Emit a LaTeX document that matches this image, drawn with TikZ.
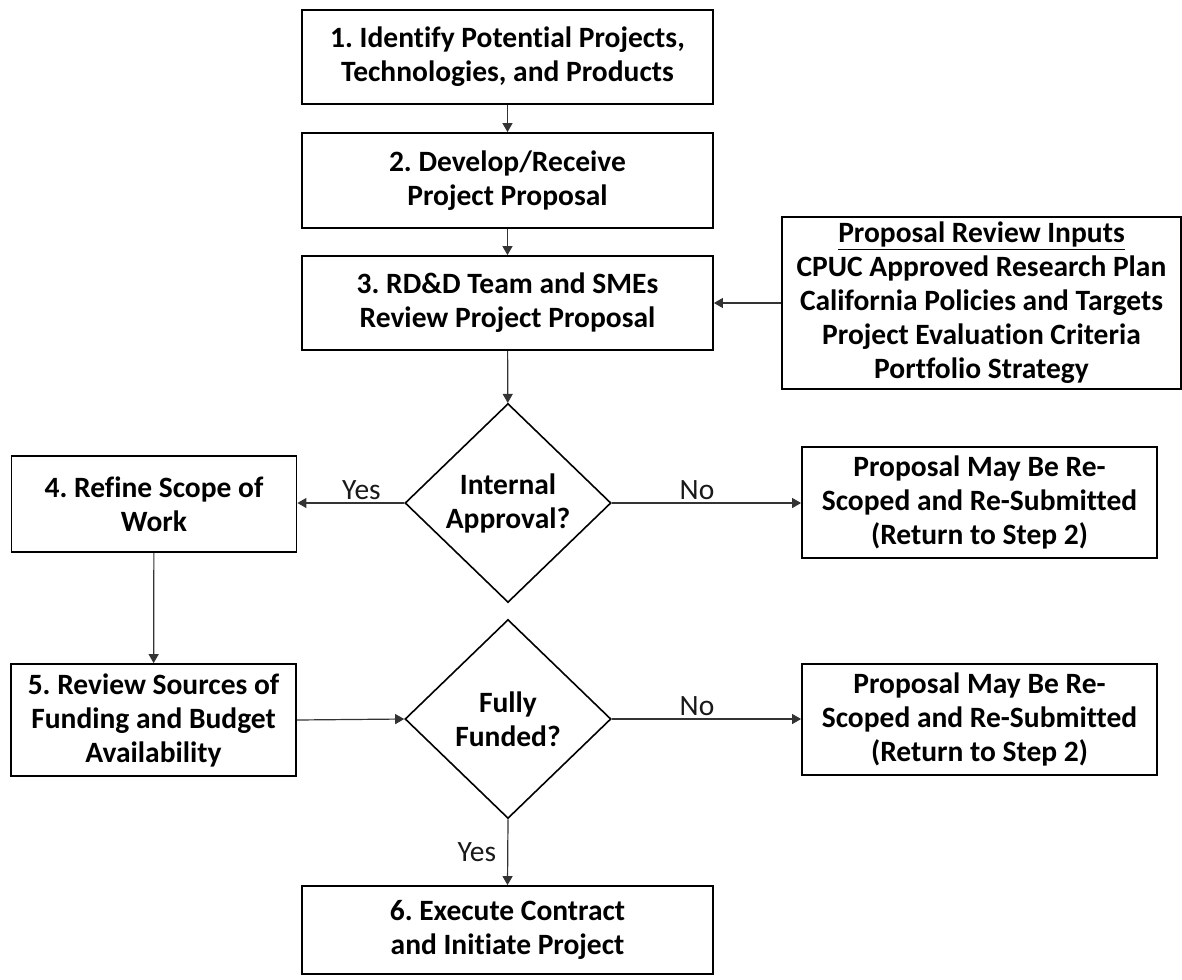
\documentclass[tikz,border=0pt]{standalone}
\usepackage{fontspec}
\setmainfont{Carlito}[Ligatures=NoCommon]
\usetikzlibrary{shapes.geometric,arrows.meta}
\frenchspacing

\begin{document}
\begin{tikzpicture}[x=1pt,y=-1pt,
  every node/.style={font=\fontsize{29.5}{34}\selectfont},
  box/.style={draw,line width=1.8pt,align=center,inner sep=2pt,font=\bfseries\fontsize{29.5}{34}\selectfont},
  dec/.style={draw,diamond,aspect=1,line width=1.6pt,align=center,inner sep=0pt,minimum width=206pt,minimum height=199pt,font=\bfseries\fontsize{29.5}{34}\selectfont},
  arr/.style={-{Triangle[length=9pt,width=10pt]},line width=1.2pt,black!80},
  lbl/.style={text=black!90,inner sep=3pt}]
\useasboundingbox (0,0) rectangle (1182,979);
% main column
\node[box,minimum width=411pt,minimum height=94pt] (step1) at (507.5,57) {1. Identify Potential Projects,\\Technologies, and Products};
\node[box,minimum width=411pt,minimum height=95pt] (step2) at (507.5,180.5) {2. Develop/Receive\\Project Proposal};
\node[box,minimum width=411pt,minimum height=94pt] (step3) at (507.5,303) {3. RD\&D Team and SMEs\\Review Project Proposal};
\node[box,minimum width=399pt,minimum height=172pt] (inputs) at (981.5,303) {\underline{Proposal Review Inputs}\\CPUC Approved Research Plan\\California Policies and Targets\\Project Evaluation Criteria\\Portfolio Strategy};
\node[dec] (approve) at (508,503) {Internal\\Approval?};
\node[box,minimum width=285pt,minimum height=96pt] (step4) at (154,504) {4. Refine Scope of\\Work};
\node[box,minimum width=355pt,minimum height=111pt] (redo1) at (979.5,502.5) {Proposal May Be Re-\\Scoped and Re-Submitted\\(Return to Step 2)};
\node[box,minimum width=285pt,minimum height=112pt] (step5) at (153.5,720) {5. Review Sources of\\Funding and Budget\\Availability};
\node[dec] (funded) at (508,719) {Fully\\Funded?};
\node[box,minimum width=355pt,minimum height=111pt] (redo2) at (979.5,719.5) {Proposal May Be Re-\\Scoped and Re-Submitted\\(Return to Step 2)};
\node[box,minimum width=411pt,minimum height=88pt] (step6) at (507.5,930) {6. Execute Contract\\and Initiate Project};
% connectors
\draw[arr] (step1) -- (step2);
\draw[arr] (step2) -- (step3);
\draw[arr] (inputs) -- (step3);
\draw[arr] (step3) -- (approve);
\draw[arr] (approve.west) -- node[lbl,above,pos=0.4] (yes1) {Yes} (step4.east |- approve.west);
\draw[arr] (approve.east) -- node[lbl,above,pos=0.45] (no1) {No} (redo1.west |- approve.east);
\draw[arr] (step4) -- (step5);
\draw[arr] (step5.east) -- (funded.west);
\draw[arr] (funded.east) -- node[lbl,above,pos=0.45] (no2) {No} (redo2.west |- funded.east);
\draw[arr] (funded.south) -- node[lbl,left=8pt] (yes2) {Yes} (step6.north);
\end{tikzpicture}
\end{document}
